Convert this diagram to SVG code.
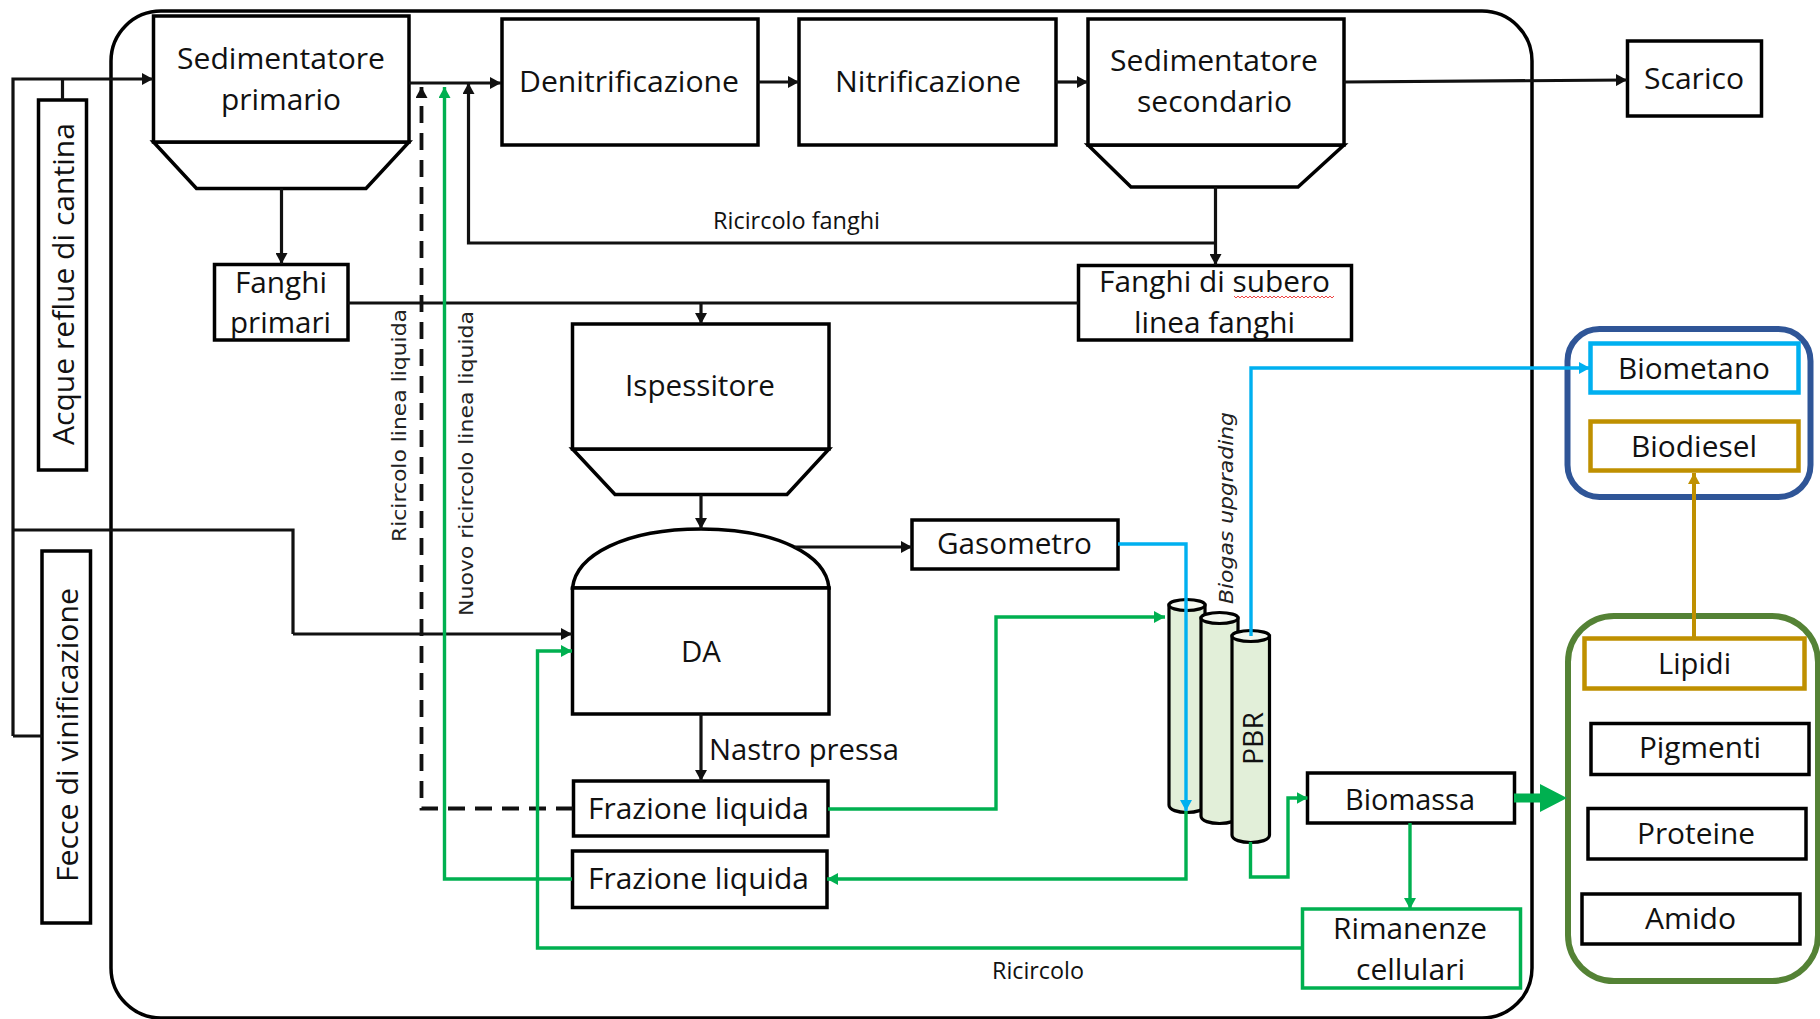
<svg xmlns="http://www.w3.org/2000/svg" width="1820" height="1019" viewBox="0 0 1820 1019">
<style>
text{font-family:"Open Sans","Noto Sans",sans-serif;font-size:30px;fill:#111}
.s{font-size:23px}
.r{font-family:"DejaVu Sans",sans-serif;font-size:20px;fill:#222}
.b{fill:#fff;stroke:#000;stroke-width:3.5}
.n{fill:none;stroke:#000;stroke-width:3.5}
.c{fill:#e2efd9;stroke:#000;stroke-width:3.2}
.t{fill:#f4f8f0;stroke:#000;stroke-width:3.2}
.l{fill:none;stroke-width:3.2;stroke:#111}
.k{marker-end:url(#ak)}
.g{stroke:#00b050;stroke-width:3.4;marker-end:url(#ag)}
.u{stroke:#00b0f0;stroke-width:3.4;marker-end:url(#au)}
.y{stroke:#bf9000;stroke-width:4;marker-end:url(#ay)}
</style>
<defs>
<marker id="ak" markerUnits="userSpaceOnUse" markerWidth="12" markerHeight="12" refX="11" refY="6" orient="auto"><path d="M0 0L11 6L0 12Z" fill="#111"/></marker>
<marker id="ag" markerUnits="userSpaceOnUse" markerWidth="12" markerHeight="12" refX="11" refY="6" orient="auto"><path d="M0 0L11 6L0 12Z" fill="#00b050"/></marker>
<marker id="au" markerUnits="userSpaceOnUse" markerWidth="12" markerHeight="12" refX="11" refY="6" orient="auto"><path d="M0 0L11 6L0 12Z" fill="#00b0f0"/></marker>
<marker id="ay" markerUnits="userSpaceOnUse" markerWidth="12" markerHeight="12" refX="11" refY="6" orient="auto"><path d="M0 0L11 6L0 12Z" fill="#bf9000"/></marker>
</defs>
<rect width="1820" height="1019" fill="#fff"/>
<rect id="impianto" x="111" y="11" width="1421" height="1007" rx="50" ry="50" class="n"/>
<g id="acque"><rect x="38.500" y="100" width="48" height="370" class="b"/><text transform="translate(74 445) rotate(-90)" textLength="322" lengthAdjust="spacingAndGlyphs">Acque reflue di cantina</text></g>
<g id="fecce"><rect x="42" y="551" width="48.500" height="372" class="b"/><text transform="translate(78 882) rotate(-90)" textLength="294" lengthAdjust="spacingAndGlyphs">Fecce di vinificazione</text></g>
<g id="sed1"><path d="M153.500 142L196.500 188.500H366L409 142Z" class="b"/><rect x="153.500" y="16" width="255.500" height="126" class="b"/><text x="177" y="69" textLength="208" lengthAdjust="spacingAndGlyphs">Sedimentatore</text><text x="221" y="110" textLength="120" lengthAdjust="spacingAndGlyphs">primario</text></g>
<g id="denit"><rect x="502" y="19" width="256" height="126" class="b"/><text x="519" y="92" textLength="220" lengthAdjust="spacingAndGlyphs">Denitrificazione</text></g>
<g id="nit"><rect x="799" y="19" width="257" height="126" class="b"/><text x="835" y="92" textLength="186" lengthAdjust="spacingAndGlyphs">Nitrificazione</text></g>
<g id="sed2"><path d="M1088 145L1131 187H1298L1344 145Z" class="b"/><rect x="1088" y="19" width="256" height="126" class="b"/><text x="1110" y="71" textLength="208" lengthAdjust="spacingAndGlyphs">Sedimentatore</text><text x="1137" y="112" textLength="155" lengthAdjust="spacingAndGlyphs">secondario</text></g>
<g id="scarico"><rect x="1627.500" y="41" width="134" height="75" class="b"/><text x="1644" y="89" textLength="100" lengthAdjust="spacingAndGlyphs">Scarico</text></g>
<g id="fanghi1"><rect x="214.500" y="264.500" width="133.500" height="75.500" class="b"/><text x="235" y="293" textLength="92" lengthAdjust="spacingAndGlyphs">Fanghi</text><text x="230" y="333" textLength="101" lengthAdjust="spacingAndGlyphs">primari</text></g>
<g id="fanghi2"><rect x="1078.500" y="265.500" width="273" height="74.500" class="b"/><text x="1099" y="292" textLength="231" lengthAdjust="spacingAndGlyphs">Fanghi di subero</text><text x="1134" y="333" textLength="161" lengthAdjust="spacingAndGlyphs">linea fanghi</text><path d="M1234 296l2 2 2-2 2 2 2-2 2 2 2-2 2 2 2-2 2 2 2-2 2 2 2-2 2 2 2-2 2 2 2-2 2 2 2-2 2 2 2-2 2 2 2-2 2 2 2-2 2 2 2-2 2 2 2-2 2 2 2-2 2 2 2-2 2 2 2-2 2 2 2-2 2 2 2-2 2 2 2-2 2 2 2-2 2 2 2-2 2 2 2-2 2 2 2-2 2 2 2-2" fill="none" stroke="#e44" stroke-width="1"/></g>
<g id="ispessitore"><path d="M572.500 449L615 494.500H787L829 449Z" class="b"/><rect x="572.500" y="324" width="256.500" height="125" class="b"/><text x="625" y="396" textLength="150" lengthAdjust="spacingAndGlyphs">Ispessitore</text></g>
<g id="da"><path d="M572.500 588C576 555 625 529 701 529C777 529 826 555 829 588Z" class="b"/><rect x="572.500" y="588" width="256.500" height="126" class="b"/><text x="681" y="662" textLength="40" lengthAdjust="spacingAndGlyphs">DA</text></g>
<g id="gasometro"><rect x="912" y="520" width="206" height="49" class="b"/><text x="937" y="554" textLength="155" lengthAdjust="spacingAndGlyphs">Gasometro</text></g>
<g id="fraz1"><rect x="573.500" y="781" width="254.500" height="55" class="b"/><text x="588" y="819" textLength="221" lengthAdjust="spacingAndGlyphs">Frazione liquida</text></g>
<g id="fraz2"><rect x="572.500" y="851" width="254.500" height="56.500" class="b"/><text x="588" y="889" textLength="221" lengthAdjust="spacingAndGlyphs">Frazione liquida</text></g>
<g id="pbr">
<path d="M1169 605V805C1169 815 1205 815 1205 805V605Z" class="c"/><ellipse cx="1187" cy="605" rx="18" ry="5.500" class="t"/>
<path d="M1201 618V816C1201 826 1238 826 1238 816V618Z" class="c"/><ellipse cx="1219.500" cy="618" rx="18.500" ry="5.500" class="t"/>
<path d="M1232 636V835C1232 845 1269.500 845 1269.500 835V636Z" class="c"/><ellipse cx="1250.700" cy="636" rx="18.700" ry="5.500" class="t"/>
<text transform="translate(1263 765) rotate(-90)" textLength="53" lengthAdjust="spacingAndGlyphs" style="font-size:28px">PBR</text></g>
<g id="biomassa"><rect x="1307.500" y="773" width="207" height="50" class="b"/><text x="1345" y="810" textLength="130" lengthAdjust="spacingAndGlyphs">Biomassa</text></g>
<g id="rimanenze"><rect x="1302.500" y="909" width="218" height="79" class="n" style="stroke:#00b050"/><text x="1333" y="939" textLength="154" lengthAdjust="spacingAndGlyphs">Rimanenze</text><text x="1356" y="980" textLength="109" lengthAdjust="spacingAndGlyphs">cellulari</text></g>
<g id="energia"><rect x="1567.500" y="329" width="243" height="168" rx="32" class="n" style="stroke:#2f5597;stroke-width:6"/></g>
<g id="biometano"><rect x="1590.500" y="343.500" width="208" height="49" class="n" style="stroke:#00b0f0;stroke-width:4.500"/><text x="1618" y="379" textLength="152" lengthAdjust="spacingAndGlyphs">Biometano</text></g>
<g id="biodiesel"><rect x="1590.500" y="421.500" width="208" height="49" class="n" style="stroke:#bf9000;stroke-width:4.500"/><text x="1631" y="457" textLength="126" lengthAdjust="spacingAndGlyphs">Biodiesel</text></g>
<g id="prodotti"><rect x="1568" y="616" width="250" height="365" rx="46" class="n" style="stroke:#548235;stroke-width:6"/></g>
<g id="lipidi"><rect x="1584.500" y="638.500" width="220" height="50" class="n" style="stroke:#bf9000;stroke-width:4.500"/><text x="1658" y="674" textLength="73" lengthAdjust="spacingAndGlyphs">Lipidi</text></g>
<g id="pigmenti"><rect x="1591" y="723.500" width="218" height="51" class="b"/><text x="1639" y="758" textLength="122" lengthAdjust="spacingAndGlyphs">Pigmenti</text></g>
<g id="proteine"><rect x="1588" y="808.500" width="218" height="50.500" class="b"/><text x="1637" y="844" textLength="118" lengthAdjust="spacingAndGlyphs">Proteine</text></g>
<g id="amido"><rect x="1582" y="894" width="218" height="50" class="b"/><text x="1645" y="929" textLength="91" lengthAdjust="spacingAndGlyphs">Amido</text></g>
<g id="connectors">
<path class="l k" d="M13 736V79H153"/>
<path class="l" d="M13 736H42M62.500 79V100M13 530H293V634"/>
<path class="l k" d="M293 634H572"/>
<path class="l k" d="M409 83H501"/>
<path class="l k" d="M758 82H799"/>
<path class="l k" d="M1056 82H1088"/>
<path class="l k" d="M1344 82L1627 80"/>
<path class="l k" d="M281.500 188.500V264"/>
<path class="l k" d="M1215.500 187V265"/>
<path class="l k" d="M1215.500 243H468.500V83"/>
<path class="l" d="M348 303H1078.500"/>
<path class="l k" d="M701 303V324"/>
<path class="l k" d="M701 494.500V529"/>
<path class="l k" d="M701 714V781"/>
<path class="l k" d="M795 547H912"/>
<path class="l k" d="M573 808.500H421.500V87" stroke-dasharray="17 10" style="stroke-width:3.800"/>
<path class="l g" d="M572 879H444.500V87"/>
<path class="l g" d="M1302.500 948H537.500V651H572"/>
<path class="l g" d="M828 809H996V617H1165"/>
<path class="l g" d="M1186 811V879H827"/>
<path class="l g" d="M1250.500 842V877H1288V798H1307.500"/>
<path class="l g" d="M1410 823V909"/>
<path class="l u" d="M1118 544H1186V811"/>
<path class="l u" d="M1251 636V368H1590"/>
<path class="l y" d="M1694 637V473"/>
<path d="M1514 793.500H1540V784L1567 798L1540 812V802.500H1514Z" fill="#00b050"/>
</g>
<g id="labels">
<text class="s" x="713" y="229" textLength="167" lengthAdjust="spacingAndGlyphs">Ricircolo fanghi</text>
<text class="s" x="992" y="979" textLength="92" lengthAdjust="spacingAndGlyphs">Ricircolo</text>
<text x="709" y="760" textLength="190" lengthAdjust="spacingAndGlyphs">Nastro pressa</text>
<text class="r" transform="translate(406 542) rotate(-90)" textLength="233" lengthAdjust="spacingAndGlyphs">Ricircolo linea liquida</text>
<text class="r" transform="translate(473 616) rotate(-90)" textLength="305" lengthAdjust="spacingAndGlyphs">Nuovo ricircolo linea liquida</text>
<text class="r" transform="translate(1233 604) rotate(-90)" textLength="192" lengthAdjust="spacingAndGlyphs" font-style="italic">Biogas upgrading</text>
</g>
</svg>
